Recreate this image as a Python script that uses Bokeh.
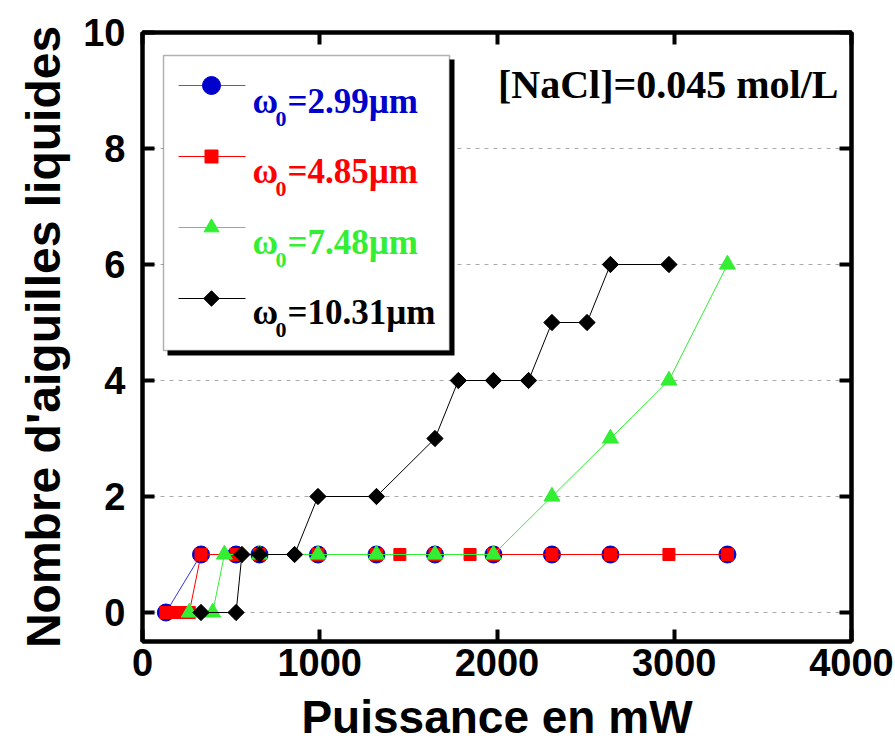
import math
from bokeh.plotting import figure
from bokeh.models import Range1d, LinearAxis, FixedTicker, BoxAnnotation, Label
from bokeh.embed import file_html
from bokeh.resources import INLINE

# ---------------- data ----------------
x_w299 = [132, 330, 528, 660, 990, 1320, 1650, 1980, 2310, 2640, 3300]
y_w299 = [0, 1, 1, 1, 1, 1, 1, 1, 1, 1, 1]

x_w485 = [132, 198, 264, 330, 528, 660, 990, 1320, 1452, 1650, 1848, 1980, 2310, 2640, 2970, 3300]
y_w485 = [0, 0, 0, 1, 1, 1, 1, 1, 1, 1, 1, 1, 1, 1, 1, 1]

x_w748 = [264, 396, 462, 660, 990, 1320, 1650, 1980, 2310, 2640, 2970, 3300]
y_w748 = [0, 0, 1, 1, 1, 1, 1, 1, 2, 3, 4, 6]

x_w1031 = [330, 528, 561, 660, 858, 990, 1320, 1650, 1782, 1980, 2178, 2310, 2508, 2640, 2970]
y_w1031 = [0, 0, 1, 1, 1, 2, 2, 3, 4, 4, 4, 5, 5, 6, 6]

legend_labels = ["=2.99\u00b5m", "=4.85\u00b5m", "=7.48\u00b5m", "=10.31\u00b5m"]
x_ticks = [0, 1000, 2000, 3000, 4000]
y_ticks = [0, 2, 4, 6, 8, 10]
grid_ticks = [0, 2, 4, 6, 8]
note_text = "[NaCl]=0.045 mol/L"
x_title = "Puissance en mW"
y_title = "Nombre d'aiguilles liquides"

X0, X1 = 0, 4000
Y0, Y1 = -0.5, 10

# ---------------- layout (page pixels) ----------------
W, H = 894, 749
FL, FR, FT, FB = 142, 851, 32, 641  # frame edges on the page


def dx(px):
    return X0 + (px - FL) * (X1 - X0) / (FR - FL)


def dy(py):
    return Y0 + (FB - py) * (Y1 - Y0) / (FB - FT)


BLUE, RED, GREEN, BLACK = "#0000CC", "#FF0000", "#33EE33", "#000000"
SANS = "Liberation Sans"
SERIF = "Liberation Serif"

p = figure(width=W, height=H, output_backend="svg", toolbar_location=None,
           x_range=Range1d(X0, X1), y_range=Range1d(Y0, Y1),
           min_border_left=FL, min_border_right=W - FR,
           min_border_top=FT, min_border_bottom=H - FB,
           background_fill_color="white", border_fill_color="white")

p.outline_line_color = "black"
p.outline_line_width = 4

p.xgrid.visible = False
p.ygrid.ticker = FixedTicker(ticks=grid_ticks)
p.ygrid.grid_line_color = "#AAAAAA"
p.ygrid.grid_line_dash = "4 5"
p.ygrid.grid_line_width = 1


def style_axis(ax, ticks, show_labels, standoff):
    ax.ticker = FixedTicker(ticks=ticks, minor_ticks=[])
    ax.axis_line_width = 4
    ax.axis_line_color = "black"
    ax.major_tick_line_width = 4
    ax.major_tick_in = 12
    ax.major_tick_out = 0
    ax.minor_tick_line_color = None
    ax.major_label_text_font = SANS
    ax.major_label_text_font_style = "bold"
    ax.major_label_standoff = standoff
    if show_labels:
        ax.major_label_text_font_size = "38px"
        ax.major_label_text_color = "black"
    else:
        ax.major_label_text_font_size = "1px"
        ax.major_label_text_color = None
        ax.major_label_standoff = 0


xa = p.xaxis[0]
ya = p.yaxis[0]
style_axis(xa, x_ticks, True, 7)
style_axis(ya, y_ticks, True, 17)
xa.axis_label = x_title
ya.axis_label = y_title
for ax in (xa, ya):
    ax.axis_label_text_font = SANS
    ax.axis_label_text_font_style = "bold"
    ax.axis_label_text_color = "black"
xa.axis_label_text_font_size = "46px"
ya.axis_label_text_font_size = "48px"
xa.axis_label_standoff = 12
ya.axis_label_standoff = 10

top_ax = LinearAxis()
style_axis(top_ax, x_ticks, False, 0)
p.add_layout(top_ax, "above")
right_ax = LinearAxis()
style_axis(right_ax, y_ticks, False, 0)
p.add_layout(right_ax, "right")

# ---------------- series ----------------
p.line(x_w299, y_w299, line_color="#3333EE", line_width=1)
p.scatter(x_w299, y_w299, marker="circle", size=17, fill_color=BLUE, line_color=BLUE)

p.line(x_w485, y_w485, line_color=RED, line_width=1)
p.scatter(x_w485, y_w485, marker="square", size=12, fill_color=RED, line_color=RED)

p.line(x_w748, y_w748, line_color=GREEN, line_width=1)
p.scatter(x_w748, y_w748, marker="triangle", size=16, fill_color=GREEN, line_color=GREEN)

p.line(x_w1031, y_w1031, line_color=BLACK, line_width=1)
p.scatter(x_w1031, y_w1031, marker="square", angle=math.pi / 4, size=11.5,
          fill_color=BLACK, line_color=BLACK)

# ---------------- legend (drawn by hand) ----------------
shadow = BoxAnnotation(left=dx(167), right=dx(454), top=dy(59), bottom=dy(355),
                       fill_color="black", fill_alpha=1, line_color=None, level="underlay")
box = BoxAnnotation(left=dx(163), right=dx(449), top=dy(55), bottom=dy(350),
                    fill_color="white", fill_alpha=1, line_color="black", line_width=1.5,
                    level="underlay")
p.add_layout(shadow)
p.add_layout(box)

rows = [
    (legend_labels[0], "#5555EE", BLUE, "circle", 18, 0.0, BLUE),
    (legend_labels[1], RED, RED, "square", 13, 0.0, RED),
    (legend_labels[2], GREEN, GREEN, "triangle", 15, 0.0, GREEN),
    (legend_labels[3], BLACK, BLACK, "square", 11, math.pi / 4, BLACK),
]
marker_py = [85, 156, 227, 298]
base_py = [101, 171, 242, 312]
for (lab, lcol, mcol, mk, sz, ang, tcol), mpy, bpy in zip(rows, marker_py, base_py):
    p.line([dx(178), dx(245)], [dy(mpy), dy(mpy)], line_color=lcol, line_width=1)
    p.scatter([dx(211)], [dy(mpy)], marker=mk, size=sz, angle=ang,
              fill_color=mcol, line_color=mcol)
    p.add_layout(Label(x=dx(252), y=dy(bpy), text="\u03c9", text_font=SERIF,
                       text_font_style="bold", text_font_size="35px", text_color=tcol,
                       text_baseline="alphabetic", text_align="left"))
    p.add_layout(Label(x=dx(275), y=dy(bpy + 17), text="0", text_font=SERIF,
                       text_font_style="bold", text_font_size="22px", text_color=tcol,
                       text_baseline="alphabetic", text_align="left"))
    p.add_layout(Label(x=dx(287), y=dy(bpy), text=lab, text_font=SERIF,
                       text_font_style="bold", text_font_size="35px", text_color=tcol,
                       text_baseline="alphabetic", text_align="left"))

p.add_layout(Label(x=dx(838), y=dy(84), text=note_text, text_font=SERIF,
                   text_font_style="bold", text_font_size="40px", text_color="black",
                   text_baseline="alphabetic", text_align="right"))

open("out.html", "w").write(file_html(p, INLINE))
